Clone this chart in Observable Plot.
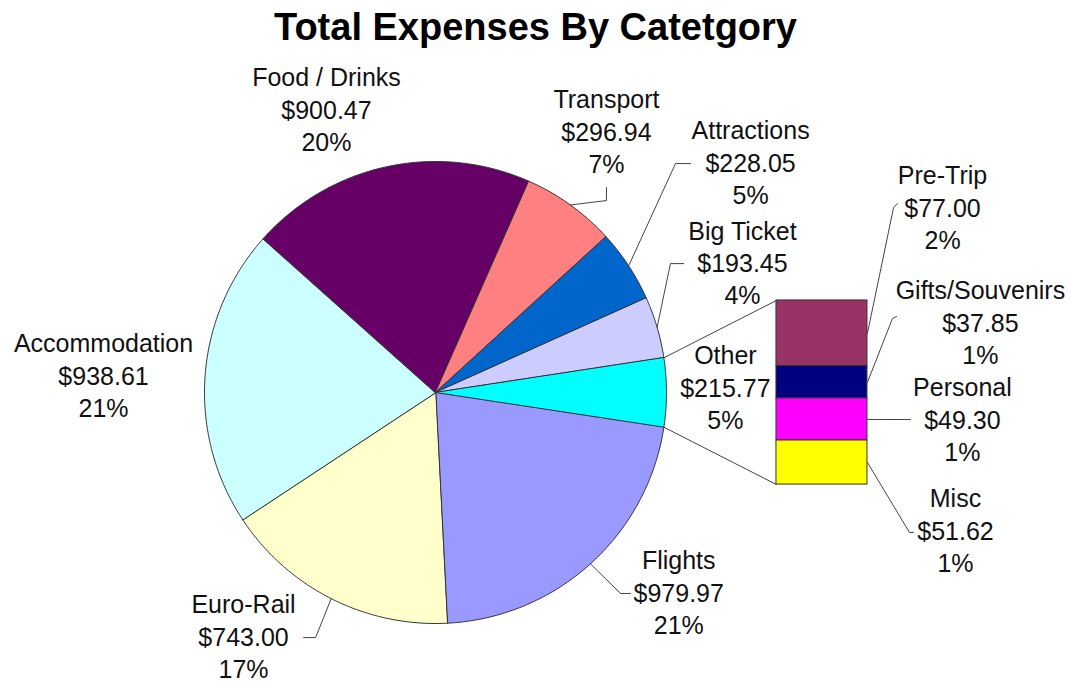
<!DOCTYPE html>
<html><head><meta charset="utf-8">
<script src="https://cdn.jsdelivr.net/npm/d3@7"></script>
<script src="https://cdn.jsdelivr.net/npm/@observablehq/plot@0.6"></script>
<style>
html,body{margin:0;padding:0;background:#fff;}
#title{font-family:Arial,"Liberation Sans",sans-serif;font-weight:bold;font-size:38px;height:54px;line-height:54px;text-align:center;color:#000;width:1071px;white-space:nowrap;}
#chart svg{display:block;}
</style></head><body>
<div id="title">Total Expenses By Catetgory</div>
<div id="chart"></div>
<script>
// ---- data ----
const pieCategories = ["Flights", "Euro-Rail", "Accommodation", "Food / Drinks", "Transport", "Attractions", "Big Ticket"];
const pieValues = [979.97, 743.00, 938.61, 900.47, 296.94, 228.05, 193.45];
const piePercents = ["21%", "17%", "21%", "20%", "7%", "5%", "4%"];
const otherCategory = "Other";
const otherPercent = "5%";
const barCategories = ["Pre-Trip", "Gifts/Souvenirs", "Personal", "Misc"];
const barValues = [77.00, 37.85, 49.30, 51.62];
const barPercents = ["2%", "1%", "1%", "1%"];

// ---- styles ----
const palette = {
  "Flights": "#9999FF", "Euro-Rail": "#FFFFCC", "Accommodation": "#CCFFFF", "Food / Drinks": "#660066",
  "Transport": "#FF8080", "Attractions": "#0066CC", "Big Ticket": "#CCCCFF", "Other": "#00FFFF",
  "Pre-Trip": "#993366", "Gifts/Souvenirs": "#000080", "Personal": "#FF00FF", "Misc": "#FFFF00"
};

// ---- layout (in pie-radius units, pie centre at 0,0) ----
const W = 1071, H = 628, RPX = 231, CX = 435, CY = 338;
const xDomain = [-CX / RPX, (W - CX) / RPX];
const yDomain = [-(H - CY) / RPX, CY / RPX];
const BAR_X1 = 1.476, BAR_X2 = 1.870, BAR_H = 0.797;
const labelLayout = {
  "Food / Drinks": {at: [-0.472, 1.221]},
  "Transport": {at: [0.740, 1.126], leader: [[0.740, 0.831], [0.740, 0.887]]},
  "Attractions": {at: [1.364, 0.991], leader: [[1.039, 0.991], [1.104, 0.991]]},
  "Big Ticket": {at: [1.329, 0.558], leader: [[1.017, 0.558], [1.074, 0.558]]},
  "Other": {at: [1.255, 0.017]},
  "Flights": {at: [1.053, -0.870], leader: [[0.801, -0.870], [0.844, -0.870]]},
  "Euro-Rail": {at: [-0.831, -1.061], leader: [[-0.519, -1.061], [-0.571, -1.061]]},
  "Accommodation": {at: [-1.437, 0.069]},
  "Pre-Trip": {at: [2.195, 0.797], leader: [[1.983, 0.801], [2.000, 0.818]]},
  "Gifts/Souvenirs": {at: [2.359, 0.299], leader: [[1.978, 0.320], [1.996, 0.329]]},
  "Personal": {at: [2.281, -0.121], leader: [[2.056, -0.117]]},
  "Misc": {at: [2.251, -0.602], leader: [[2.052, -0.606], [2.069, -0.606]]}
};

// ---- derived geometry ----
const otherValue = d3.sum(barValues);
const total = d3.sum(pieValues) + otherValue;
const toDeg = v => v / total * 360;
const rad = a => a * Math.PI / 180;
const fmt = d3.format("$.2f");
const otherDeg = toDeg(otherValue);

const slices = [];
let a = -otherDeg / 2;
pieCategories.forEach((name, i) => {
  const a0 = a - toDeg(pieValues[i]);
  slices.push({name, value: pieValues[i], pct: piePercents[i], a0, a1: a});
  a = a0;
});
slices.push({name: otherCategory, value: otherValue, pct: otherPercent, a0: -otherDeg / 2, a1: otherDeg / 2});

const slicePts = [];
for (const s of slices) {
  const n = Math.max(2, Math.ceil((s.a1 - s.a0) / 0.5));
  slicePts.push({name: s.name, x: 0, y: 0});
  for (let k = 0; k <= n; k++) {
    const t = rad(s.a0 + (s.a1 - s.a0) * k / n);
    slicePts.push({name: s.name, x: Math.cos(t), y: Math.sin(t)});
  }
}

const k = BAR_H / otherValue;
let cum = 0;
const bars = barCategories.map((name, i) => {
  const top = BAR_H / 2 - cum * k;
  cum += barValues[i];
  const bottom = BAR_H / 2 - cum * k;
  return {name, value: barValues[i], pct: barPercents[i], x1: BAR_X1, x2: BAR_X2, y1: bottom, y2: top};
});

const connectors = [
  {id: "top", x: Math.cos(rad(otherDeg / 2)), y: Math.sin(rad(otherDeg / 2))},
  {id: "top", x: BAR_X1, y: BAR_H / 2},
  {id: "bot", x: Math.cos(rad(-otherDeg / 2)), y: Math.sin(rad(-otherDeg / 2))},
  {id: "bot", x: BAR_X1, y: -BAR_H / 2}
];

const labels = [];
const leaders = [];
for (const s of slices) {
  const L = labelLayout[s.name];
  labels.push({x: L.at[0], y: L.at[1], text: `${s.name}\n${fmt(s.value)}\n${s.pct}`});
  if (L.leader) {
    const m = rad((s.a0 + s.a1) / 2);
    leaders.push({id: s.name, x: Math.cos(m), y: Math.sin(m)});
    for (const p of L.leader) leaders.push({id: s.name, x: p[0], y: p[1]});
  }
}
for (const b of bars) {
  const L = labelLayout[b.name];
  labels.push({x: L.at[0], y: L.at[1], text: `${b.name}\n${fmt(b.value)}\n${b.pct}`});
  if (L.leader) {
    leaders.push({id: b.name, x: b.x2, y: (b.y1 + b.y2) / 2});
    for (const p of L.leader) leaders.push({id: b.name, x: p[0], y: p[1]});
  }
}

const names = Object.keys(palette);
const chart = Plot.plot({
  width: W, height: H, margin: 0,
  style: {background: "#fff", overflow: "visible"},
  x: {domain: xDomain, axis: null},
  y: {domain: yDomain, axis: null},
  color: {domain: names, range: names.map(n => palette[n])},
  marks: [
    Plot.line(slicePts, {x: "x", y: "y", z: "name", fill: "name", stroke: "#333", strokeWidth: 1, curve: "linear-closed", strokeLinejoin: "miter"}),
    Plot.line(connectors, {x: "x", y: "y", z: "id", stroke: "#444", strokeWidth: 1}),
    Plot.rect(bars, {x1: "x1", x2: "x2", y1: "y1", y2: "y2", fill: "name", stroke: "#333", strokeWidth: 1}),
    Plot.line(leaders, {x: "x", y: "y", z: "id", stroke: "#444", strokeWidth: 1}),
    Plot.text(labels, {x: "x", y: "y", text: "text", fontSize: 25, lineHeight: 1.3, dy: -2, fontFamily: "Arial, 'Liberation Sans', sans-serif", fill: "#111"})
  ]
});
document.getElementById("chart").appendChild(chart);
</script>
</body></html>
